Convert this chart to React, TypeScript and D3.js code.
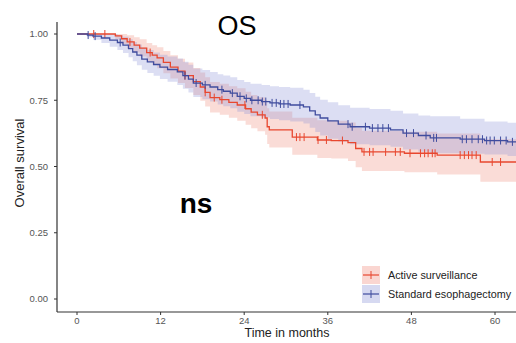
import React from "react";
import * as d3 from "d3";

// Kaplan-Meier steps (months, survival, CI)
const seTime = [0, 1.5, 2.3, 3.5, 4.7, 5.8, 6.6, 7.4, 8.0, 8.6, 9.3, 10.1, 11.0, 11.9, 13.0, 14.4, 15.2, 16.0, 16.7, 18.0, 19.1, 20.2, 21.0, 22.0, 23.0, 24.0, 24.9, 26.5, 27.7, 29.0, 30.6, 32.5, 33.4, 34.2, 34.9, 36.0, 37.5, 39.2, 42.0, 45.0, 46.8, 49.0, 50.7, 55.0, 58.5, 61.8];
const seSurv = [1, 0.996, 0.992, 0.985, 0.977, 0.968, 0.958, 0.945, 0.932, 0.92, 0.905, 0.895, 0.885, 0.875, 0.866, 0.857, 0.843, 0.83, 0.815, 0.808, 0.8, 0.79, 0.784, 0.777, 0.765, 0.757, 0.75, 0.745, 0.74, 0.736, 0.732, 0.725, 0.71, 0.695, 0.683, 0.672, 0.66, 0.65, 0.645, 0.638, 0.626, 0.617, 0.608, 0.603, 0.598, 0.593];
const seLower = [1, 0.988, 0.978, 0.966, 0.952, 0.94, 0.928, 0.912, 0.897, 0.882, 0.865, 0.853, 0.842, 0.83, 0.82, 0.808, 0.793, 0.779, 0.762, 0.754, 0.745, 0.734, 0.727, 0.72, 0.707, 0.698, 0.69, 0.685, 0.679, 0.675, 0.67, 0.662, 0.646, 0.63, 0.617, 0.605, 0.594, 0.584, 0.58, 0.575, 0.564, 0.556, 0.55, 0.548, 0.545, 0.54];
const seUpper = [1, 1, 1, 1, 1, 0.995, 0.99, 0.98, 0.97, 0.96, 0.948, 0.94, 0.93, 0.922, 0.915, 0.908, 0.895, 0.884, 0.87, 0.864, 0.857, 0.848, 0.843, 0.837, 0.826, 0.819, 0.812, 0.808, 0.803, 0.8, 0.797, 0.79, 0.777, 0.763, 0.752, 0.742, 0.731, 0.722, 0.717, 0.71, 0.7, 0.692, 0.69, 0.68, 0.67, 0.665];
const seCensor = [1.6, 2.6, 6.2, 15.5, 17.1, 18.4, 20.8, 22.3, 23.4, 24.3, 25.1, 26.0, 26.6, 27.1, 28.0, 28.6, 29.2, 29.7, 30.3, 32.0, 38.9, 39.5, 41.4, 42.4, 43.2, 43.9, 44.7, 47.3, 48.3, 50.1, 51.2, 51.6, 55.3, 55.9, 56.7, 57.6, 58.2, 58.8, 59.3, 59.9, 60.8, 61.6, 62.5];

const asTime = [0, 5.5, 6.4, 7.2, 8.2, 9.0, 10.0, 10.8, 11.5, 12.4, 13.4, 14.5, 15.5, 16.7, 17.7, 18.4, 19.1, 20.5, 21.8, 23.0, 24.2, 25.0, 25.9, 27.0, 27.3, 27.6, 30.9, 34.5, 36.5, 38.9, 40.0, 40.9, 47.0, 51.7, 57.9];
const asSurv = [1, 0.993, 0.982, 0.97, 0.958, 0.947, 0.93, 0.92, 0.91, 0.893, 0.875, 0.86, 0.843, 0.82, 0.8, 0.78, 0.76, 0.752, 0.742, 0.732, 0.718, 0.705, 0.695, 0.683, 0.65, 0.638, 0.611, 0.6, 0.598, 0.59, 0.568, 0.555, 0.55, 0.543, 0.517];
const asLower = [1, 0.979, 0.962, 0.945, 0.93, 0.915, 0.895, 0.883, 0.871, 0.852, 0.832, 0.815, 0.796, 0.77, 0.748, 0.726, 0.704, 0.695, 0.684, 0.673, 0.658, 0.644, 0.633, 0.62, 0.585, 0.572, 0.544, 0.532, 0.53, 0.521, 0.497, 0.483, 0.478, 0.47, 0.442];
const asUpper = [1, 1, 1, 0.995, 0.988, 0.98, 0.966, 0.958, 0.95, 0.936, 0.92, 0.907, 0.892, 0.872, 0.855, 0.837, 0.819, 0.812, 0.803, 0.795, 0.782, 0.77, 0.761, 0.75, 0.72, 0.708, 0.684, 0.675, 0.673, 0.666, 0.646, 0.635, 0.631, 0.625, 0.603];
const asCensor = [2.4, 4.0, 7.6, 10.5, 15.5, 18.4, 19.7, 20.8, 24.1, 26.6, 31.5, 32.0, 32.6, 34.6, 35.8, 38.1, 41.2, 42.0, 42.5, 44.3, 45.7, 46.4, 47.8, 49.3, 49.9, 50.4, 51.0, 51.4, 55.0, 55.6, 56.2, 56.7, 57.3, 59.6, 60.8];

const xTicks = [0, 12, 24, 36, 48, 60];
const yTicks = [0, 0.25, 0.5, 0.75, 1];
const groups = ["Active surveillance", "Standard esophagectomy"];

const W = 516;
const H = 343;
const FONT = "'Liberation Sans', Arial, sans-serif";

export default function App() {
  const x = d3.scaleLinear().domain([0, 60]).range([77, 495]);
  const y = d3.scaleLinear().domain([0, 1]).range([299, 34]);
  const left = 57;
  const bottom = 312;
  const xEnd = x.invert(W + 5);

  const series = [
    { name: groups[0], color: "#E8472F", fill: "#F08A7A", t: asTime, s: asSurv, lo: asLower, hi: asUpper, cens: asCensor },
    { name: groups[1], color: "#3F4C9E", fill: "#8A93D6", t: seTime, s: seSurv, lo: seLower, hi: seUpper, cens: seCensor },
  ].map((g) => {
    const pts = g.t.map((t, i) => ({ t, s: g.s[i], lo: g.lo[i], hi: g.hi[i] }));
    const last = pts[pts.length - 1];
    pts.push({ ...last, t: xEnd });
    return { ...g, pts };
  });

  const line = d3
    .line<any>()
    .x((d) => x(d.t))
    .y((d) => y(d.s))
    .curve(d3.curveStepAfter);
  const area = d3
    .area<any>()
    .x((d) => x(d.t))
    .y0((d) => y(d.lo))
    .y1((d) => y(d.hi))
    .curve(d3.curveStepAfter);
  const bis = d3.bisector((d: any) => d.t).right;

  return (
    <svg width={W} height={H} style={{ position: "absolute", left: 0, top: 0, background: "#fff" }} fontFamily={FONT}>
      <defs>
        <clipPath id="plotClip">
          <rect x={left} y={0} width={W - left} height={bottom} />
        </clipPath>
      </defs>

      <g clipPath="url(#plotClip)">
        {series.map((g) => (
          <path key={g.name + "ci"} d={area(g.pts) || ""} fill={g.fill} fillOpacity={0.3} />
        ))}
        {series.map((g) => (
          <g key={g.name}>
            <path d={line(g.pts) || ""} fill="none" stroke={g.color} strokeWidth={1.3} />
            {g.cens.map((t, i) => {
              const s = g.pts[Math.max(0, bis(g.pts, t) - 1)].s;
              return <line key={i} x1={x(t)} x2={x(t)} y1={y(s) - 4} y2={y(s) + 4} stroke={g.color} strokeWidth={1} />;
            })}
          </g>
        ))}
      </g>

      {/* axes */}
      <line x1={left} x2={left} y1={22} y2={bottom} stroke="#333" strokeWidth={1.2} />
      <line x1={left} x2={W} y1={bottom} y2={bottom} stroke="#333" strokeWidth={1.2} />
      {yTicks.map((v) => (
        <g key={v}>
          <line x1={left - 3} x2={left} y1={y(v)} y2={y(v)} stroke="#333" />
          <text x={left - 9} y={y(v)} dy="0.35em" textAnchor="end" fontSize={9.5} fill="#555">
            {d3.format(".2f")(v)}
          </text>
        </g>
      ))}
      {xTicks.map((v) => (
        <g key={v}>
          <line x1={x(v)} x2={x(v)} y1={bottom} y2={bottom + 3} stroke="#333" />
          <text x={x(v)} y={bottom + 12} textAnchor="middle" fontSize={9.5} fill="#555">
            {v}
          </text>
        </g>
      ))}
      <text x={287} y={337} textAnchor="middle" fontSize={12.5} fill="#222">
        Time in months
      </text>
      <text transform="translate(24,163) rotate(-90)" textAnchor="middle" fontSize={13} fill="#222">
        Overall survival
      </text>

      <text x={237} y={35} textAnchor="middle" fontSize={27} fill="#000">
        OS
      </text>
      <text x={196} y={213} textAnchor="middle" fontSize={28} fontWeight="bold" fill="#000">
        ns
      </text>

      {/* legend */}
      {series.map((g, i) => {
        const ly = 266 + i * 19;
        return (
          <g key={g.name + "leg"}>
            <rect x={362} y={ly} width={18} height={18} fill={g.fill} fillOpacity={0.35} />
            <line x1={363} x2={379} y1={ly + 9} y2={ly + 9} stroke={g.color} strokeWidth={1.2} />
            <line x1={371} x2={371} y1={ly + 5} y2={ly + 13} stroke={g.color} strokeWidth={1} />
            <text x={388} y={ly + 9} dy="0.35em" fontSize={10.8} fill="#222">
              {g.name}
            </text>
          </g>
        );
      })}
    </svg>
  );
}
